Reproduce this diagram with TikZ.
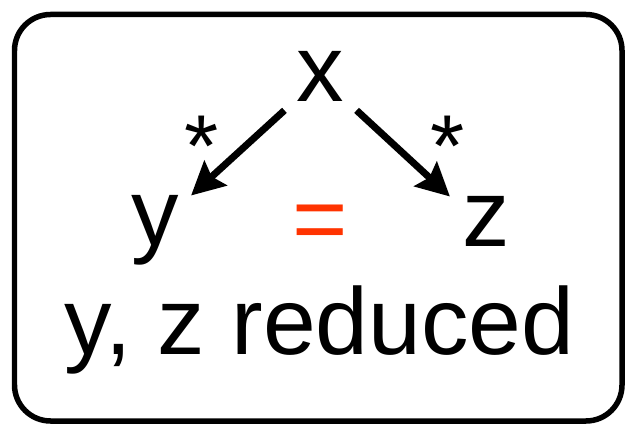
\documentclass[tikz,border=0pt]{standalone}
\usepackage{fontspec}
\setmainfont{Liberation Sans}
\usetikzlibrary{
  arrows.meta,
  positioning
}
\definecolor{eqred}{RGB}{255,51,0}

\begin{document}
\begin{tikzpicture}[
  x=0.02cm, y=-0.02cm,
  big/.style={font=\fontsize{54}{60}\selectfont, inner sep=0pt},
  letter/.style={big, anchor=base, inner xsep=0.24cm, inner ysep=0pt},
  star/.style={font=\fontsize{50}{56}\selectfont, inner sep=0pt},
  reduct/.style={line width=0.14cm, -{Stealth[length=0.66cm, width=0.66cm, inset=0.1cm]}},
  >=Stealth
]

\useasboundingbox (0,0) rectangle (625,425);
\draw[line width=0.11cm, rounded corners=0.72cm] (14.5,14.5) rectangle (622,421);

\node[letter, inner ysep=0.16cm] (x) at (320.5,102) {x};
\node[letter] (y) at (155,246) {y};
\node[letter] (z) at (486,247) {z};
\node[big, text=eqred] (eq) at (320,228) {=};

\node[star] (sl) at (202,146) {*};
\node[star] (sr) at (448,146) {*};

\draw[reduct] (x.south west) -- (y.north east);
\draw[reduct] (x.south east) -- (z.north west);

\node[big, anchor=base] (caption) at (319.5,355) {y, z reduced};

\end{tikzpicture}
\end{document}
